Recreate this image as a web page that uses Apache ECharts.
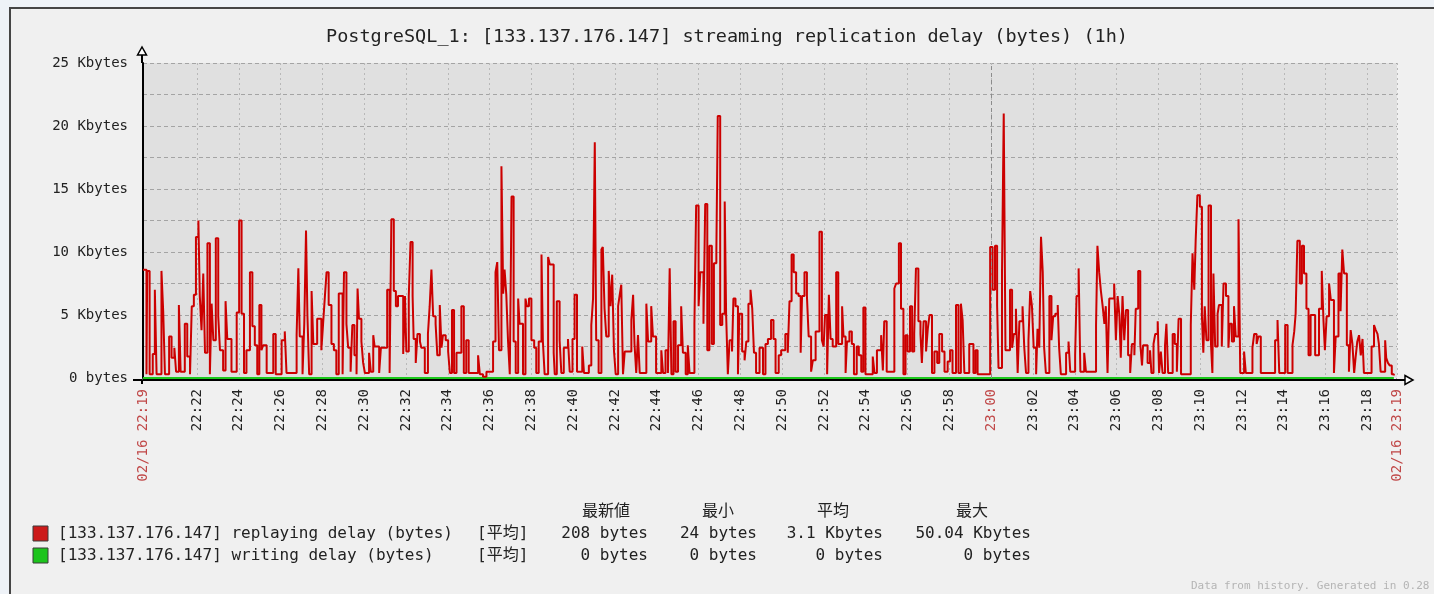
<!DOCTYPE html>
<html>
<head>
<meta charset="utf-8">
<title>PostgreSQL_1 streaming replication delay</title>
<script src="https://cdn.jsdelivr.net/npm/echarts@6/dist/echarts.min.js"></script>
<style>
  html, body { margin: 0; padding: 0; width: 1434px; height: 594px; overflow: hidden; background: #eef2f7; }
  #frame { position: absolute; left: 9px; top: 7px; width: 1440px; height: 600px; border: 2px solid #454545; background: #f0f0f0; }
  #chart { position: absolute; left: 0; top: 0; width: 1434px; height: 594px; }
</style>
</head>
<body>
<div id="frame"></div>
<div id="chart"></div>
<script>
// 時刻は 22:00:00 からの秒数で持つ
const START_SEC = 19 * 60 + 25 // 02/16 22:19:25
const SPAN_SEC = 3600 // 1h
const START_LABEL = '02/16 22:19'
const END_LABEL = '02/16 23:19'

const xTickLabels = [
  '22:22', '22:24', '22:26', '22:28', '22:30', '22:32', '22:34', '22:36', '22:38', '22:40',
  '22:42', '22:44', '22:46', '22:48', '22:50', '22:52', '22:54', '22:56', '22:58', '23:00',
  '23:02', '23:04', '23:06', '23:08', '23:10', '23:12', '23:14', '23:16', '23:18'
]

// replaying delay: 開始からの秒数 / Kbytes
const sampleOffsets = [
  0, 10, 12, 19, 28, 34, 39, 53, 58, 63,
  75, 82, 90, 95, 103, 108, 120, 127, 135, 140,
  146, 152, 159, 163, 168, 173, 178, 185, 192, 197,
  202, 209, 216, 221, 230, 237, 242, 254, 269, 276,
  283, 290, 297, 307, 314, 321, 328, 334, 340, 345,
  355, 374, 381, 398, 407, 412, 441, 446, 450, 458,
  463, 468, 472, 477, 484, 489, 500, 512, 517, 522,
  527, 533, 541, 548, 555, 562,
  573, 577, 584, 589, 596, 601, 607, 613, 616, 620,
  627, 632, 637, 649, 654, 661, 665, 678, 683, 701,
  708, 713, 720, 726, 732, 747, 752, 756, 763, 768,
  774, 777, 783, 788, 795, 799, 809, 818, 823, 828,
  833, 840, 845, 852, 857, 861, 869, 876, 881, 887,
  893, 900, 914, 921, 928, 935, 962, 967, 976, 986,
  1005, 1012, 1017, 1022, 1029, 1034, 1038, 1043, 1048, 1053,
  1058, 1064, 1070, 1077, 1081, 1091, 1098, 1102, 1108, 1115,
  1123, 1129, 1136, 1144, 1148, 1153, 1163, 1168,
  1179, 1182, 1188, 1196, 1201, 1208, 1220, 1225, 1233, 1239,
  1246, 1261, 1266, 1280, 1287, 1292, 1297, 1301, 1308, 1316,
  1320, 1325, 1330, 1337, 1342, 1347, 1352, 1357, 1364, 1368,
  1373, 1378, 1383, 1402, 1407, 1411, 1416, 1421, 1426, 1445,
  1450, 1459, 1464, 1473, 1488, 1493, 1500, 1507, 1512, 1517,
  1523, 1529, 1536, 1545, 1550, 1558, 1564, 1569, 1583, 1588,
  1595, 1600, 1609, 1614, 1620, 1626, 1633, 1639, 1646, 1650,
  1657, 1663, 1670, 1674, 1679, 1684, 1691, 1695, 1701, 1708,
  1712, 1720, 1727, 1732, 1738, 1744, 1749, 1754, 1760,
  1770, 1780, 1787, 1794, 1803, 1810, 1816, 1825, 1832, 1844,
  1851, 1856, 1862, 1868, 1875, 1882, 1888, 1892, 1899, 1906,
  1911, 1918, 1923, 1931, 1942, 1949, 1954, 1958, 1964, 1969,
  1974, 1980, 1990, 1996, 2007, 2011, 2017, 2021, 2028, 2035,
  2041, 2049, 2055, 2062, 2068, 2074, 2095, 2100, 2107, 2119,
  2124, 2128, 2135, 2157, 2162, 2170, 2176, 2183, 2189, 2195,
  2202, 2208, 2214, 2219, 2226, 2232, 2236, 2241, 2248, 2253,
  2258, 2265, 2272, 2280, 2286, 2294, 2301, 2310, 2317, 2324,
  2334, 2341, 2348, 2353, 2358,
  2372, 2384, 2390, 2396, 2432, 2439, 2446, 2452, 2456, 2466,
  2471, 2476, 2489, 2495, 2500, 2506, 2511, 2516, 2525, 2530,
  2535, 2542, 2547, 2552, 2557, 2564, 2568, 2573, 2578, 2583,
  2587, 2592, 2602, 2608, 2613, 2619, 2626, 2630, 2635, 2650,
  2657, 2662, 2676, 2680, 2686, 2691, 2702, 2707, 2736, 2740,
  2745, 2750, 2755, 2760, 2764, 2769, 2774, 2788, 2793, 2798,
  2803, 2807, 2812, 2817, 2822, 2828, 2834, 2839, 2846, 2850,
  2857, 2863, 2868, 2871, 2884, 2891, 2895, 2901, 2906, 2913,
  2917, 2922, 2927, 2934, 2938, 2943, 2956, 2962, 2968, 2973,
  2980, 3008, 3013, 3018, 3022, 3027, 3034, 3040, 3044, 3048,
  3053, 3059, 3066, 3070, 3073, 3078, 3085, 3089, 3097, 3102,
  3109, 3116, 3120, 3126, 3132, 3137, 3145, 3150, 3161, 3166,
  3185, 3190, 3197, 3202, 3209, 3250, 3257, 3262, 3279, 3286,
  3300, 3305, 3309, 3314, 3321, 3327, 3333, 3340, 3346, 3352,
  3365, 3376, 3384, 3389, 3393, 3398, 3405, 3410, 3419, 3424,
  3432, 3438, 3443, 3448, 3456, 3462, 3467, 3472, 3477, 3481,
  3486, 3491, 3496, 3501, 3505, 3527, 3534, 3539, 3544, 3548,
  3553, 3566, 3569, 3574, 3579, 3585, 3591
]
const replayingKB = [
  8.6, 0.3, 8.5, 0.3, 1.9, 7.0, 0.3, 8.5, 5.3, 0.3,
  3.3, 1.6, 2.4, 0.5, 5.8, 0.5, 4.3, 1.7, 0.3, 5.7,
  6.6, 11.2, 12.5, 6.5, 3.8, 8.3, 2.0, 10.7, 0.3, 5.9,
  3.0, 11.1, 4.9, 2.2, 0.6, 6.1, 3.1, 0.5, 5.2, 12.5,
  5.1, 0.4, 2.2, 8.4, 4.1, 2.6, 0.3, 5.8, 2.2, 2.6,
  0.4, 3.5, 0.3, 3.0, 3.7, 0.4, 3.4, 8.7, 3.3, 0.3,
  4.3, 11.7, 5.0, 0.3, 6.9, 2.7, 4.7, 2.2, 4.3, 6.4,
  8.4, 5.8, 2.7, 2.2, 0.3, 6.7,
  0.3, 8.4, 4.3, 2.4, 0.5, 4.2, 1.8, 0.3, 7.1, 4.7,
  2.9, 1.2, 0.4, 2.0, 0.5, 3.4, 2.5, 0.4, 2.4, 7.0,
  0.4, 12.6, 6.9, 5.7, 6.5, 1.9, 6.5, 2.1, 6.5, 10.8,
  6.5, 3.1, 1.2, 3.5, 2.9, 2.4, 0.4, 3.5, 5.7, 8.6,
  4.9, 4.3, 1.8, 5.8, 2.4, 3.4, 3.0, 2.1, 0.4, 5.4,
  0.4, 2.0, 5.7, 0.4, 3.0, 0.4, 1.8, 0.3, 0.1, 0.5,
  2.9, 8.4, 9.2, 2.2, 16.8, 6.7, 8.6, 6.6, 2.9, 0.3,
  14.4, 2.9, 0.4, 6.3, 4.3, 0.3, 6.3, 5.7, 6.3, 3.0,
  2.4, 0.4, 2.9, 9.8, 2.9, 0.3, 9.6, 9.0,
  2.0, 0.3, 6.1, 3.0, 0.4, 2.4, 3.1, 0.5, 3.1, 6.6,
  0.5, 2.5, 0.4, 1.0, 4.2, 6.3, 18.7, 3.0, 0.4, 10.2,
  10.4, 5.5, 3.3, 8.5, 5.7, 8.2, 2.2, 0.3, 5.7, 6.5,
  7.4, 0.3, 2.1, 4.6, 6.6, 2.7, 0.4, 3.4, 0.4, 5.9,
  2.9, 5.7, 3.3, 0.4, 2.2, 0.4, 2.2, 0.4, 8.7, 0.3,
  4.5, 0.5, 2.6, 5.7, 2.0, 0.3, 2.6, 0.4, 4.3, 13.7,
  5.7, 8.4, 4.3, 13.8, 2.2, 10.5, 2.7, 9.1, 10.0, 20.8,
  4.2, 5.1, 14.0, 5.1, 0.3, 3.0, 2.1, 6.3, 5.7, 0.3,
  5.1, 2.1, 1.4, 2.9, 5.9, 7.0, 5.5, 2.0, 0.4,
  2.4, 0.3, 2.7, 3.1, 4.6, 3.1, 0.4, 1.8, 2.2, 3.5,
  2.0, 6.1, 9.8, 8.4, 6.7, 6.5, 2.0, 6.5, 8.4, 6.5,
  3.3, 0.5, 1.4, 3.7, 11.6, 3.0, 2.5, 5.0, 0.3, 6.6,
  3.1, 2.5, 8.4, 2.7, 5.7, 3.3, 0.4, 2.9, 3.7, 2.7,
  0.3, 2.5, 1.8, 0.5, 5.6, 0.3, 1.7, 0.4, 2.2, 3.4,
  0.6, 4.5, 0.5, 7.1, 7.5, 10.7, 5.5, 0.3, 3.4, 2.1,
  5.7, 2.1, 3.5, 8.7, 4.5, 3.5, 1.2, 4.5, 2.1, 3.9,
  5.0, 0.4, 2.1, 1.2, 3.5, 2.1, 0.5, 1.3, 2.2, 0.4,
  5.8, 0.4, 5.9, 4.6, 0.4,
  2.7, 0.4, 2.2, 0.3, 10.4, 7.0, 10.5, 5.8, 0.8, 8.3,
  21.0, 2.2, 7.0, 2.4, 3.5, 5.5, 0.4, 4.5, 5.7, 2.4,
  0.4, 3.0, 6.9, 5.7, 2.4, 0.3, 3.9, 2.4, 11.2, 8.4,
  2.4, 0.4, 6.5, 3.0, 4.9, 5.1, 5.8, 2.4, 0.3, 2.0,
  2.9, 0.5, 1.8, 6.5, 8.7, 0.5, 2.0, 0.5, 4.2, 10.5,
  8.4, 6.9, 5.7, 4.3, 5.7, 0.4, 6.3, 7.5, 3.0, 6.5,
  5.0, 1.6, 6.5, 3.0, 5.4, 1.8, 0.4, 2.7, 1.8, 5.5,
  8.5, 2.7, 1.0, 2.6, 1.2, 2.2, 0.4, 2.7, 3.5, 4.5,
  0.4, 2.1, 0.4, 2.6, 4.3, 0.4, 3.5, 2.7, 0.5, 4.7,
  0.3, 4.2, 9.9, 7.0, 10.9, 14.5, 13.6, 4.9, 2.0, 5.7,
  3.0, 13.7, 2.7, 0.4, 8.3, 2.5, 5.1, 5.8, 2.5, 7.5,
  6.5, 2.4, 4.3, 2.9, 5.7, 3.3, 12.6, 0.4, 2.1, 0.4,
  2.4, 3.5, 2.7, 3.3, 0.4, 3.0, 4.6, 0.4, 4.2, 0.4,
  2.6, 3.7, 5.1, 10.9, 7.5, 10.5, 8.3, 5.5, 1.8, 5.0,
  1.8, 5.5, 8.5, 4.5, 2.2, 4.9, 7.5, 6.2, 0.4, 3.3,
  8.3, 5.3, 10.2, 8.3, 2.6, 0.5, 3.8, 2.7, 0.4, 1.6,
  2.9, 3.4, 1.8, 3.1, 0.4, 2.5, 4.2, 3.8, 3.5, 2.7,
  0.5, 3.0, 1.6, 1.2, 1.0, 0.3, 0.2
]

// writing delay は全区間 0
const writingOffsets = [0, 3591]
const writingKB = [0, 0]

const legendNames = [
  '[133.137.176.147] replaying delay (bytes)',
  '[133.137.176.147] writing delay (bytes)'
]
const statHeaders = ['最新値', '最小', '平均', '最大']
const replayingStats = ['208 bytes', '24 bytes', '3.1 Kbytes', '50.04 Kbytes']
const writingStats = ['0 bytes', '0 bytes', '0 bytes', '0 bytes']

const MONO = '"DejaVu Sans Mono", "Noto Sans CJK JP", monospace'
const RED = '#cc0000'
const GREEN = '#1cc81c'

const toSec = label => {
  const [h, m] = label.split(':').map(Number)
  return (h - 22) * 3600 + m * 60
}
const fmtTime = s => {
  const h = 22 + Math.floor(s / 3600)
  const m = Math.floor((s % 3600) / 60)
  return h + ':' + String(m).padStart(2, '0')
}

const END_SEC = START_SEC + SPAN_SEC
const gridSecs = xTickLabels.map(toSec).concat([END_SEC])
const labelSecs = [START_SEC].concat(xTickLabels.map(toSec), [END_SEC])
const hourSec = toSec('23:00')

const replayData = sampleOffsets.map((t, i) => [START_SEC + t, replayingKB[i]])
const writingData = writingOffsets.map((t, i) => [START_SEC + t, writingKB[i]])

var myChart = echarts.init(document.getElementById('chart'), null, { renderer: 'canvas' })

var option = {
  animation: false,
  title: {
    text: 'PostgreSQL_1: [133.137.176.147] streaming replication delay (bytes) (1h)',
    left: 321,
    top: 23,
    textStyle: { color: '#222', fontSize: 18.5, fontWeight: 'normal', fontFamily: MONO }
  },
  grid: {
    left: 143,
    top: 63,
    right: 37,
    bottom: 216,
    show: true,
    backgroundColor: '#e0e0e0',
    borderWidth: 0
  },
  xAxis: {
    type: 'value',
    min: START_SEC,
    max: END_SEC,
    offset: 2,
    axisLine: { show: true, onZero: false, lineStyle: { color: '#000', width: 2 } },
    axisTick: { show: false, customValues: gridSecs },
    splitLine: {
      show: true,
      lineStyle: { color: '#b8b8b8', type: [2, 3], width: 1 }
    },
    axisLabel: {
      customValues: labelSecs,
      rotate: 90,
      margin: 9,
      fontSize: 14,
      fontFamily: MONO,
      color: function (value) {
        var v = Number(value)
        return (v === START_SEC || v === END_SEC || v === hourSec) ? '#c04848' : '#222'
      },
      formatter: function (value) {
        if (value === START_SEC) return START_LABEL
        if (value === END_SEC) return END_LABEL
        return fmtTime(value)
      }
    }
  },
  yAxis: {
    type: 'value',
    min: 0,
    max: 25,
    interval: 2.5,
    axisLine: { show: true, onZero: false, lineStyle: { color: '#000', width: 2 } },
    axisTick: { show: false },
    splitLine: {
      show: true,
      lineStyle: { color: '#a4a4a4', type: [4, 3], width: 1 }
    },
    axisLabel: {
      margin: 15,
      fontSize: 14,
      fontFamily: MONO,
      color: '#222',
      formatter: function (v) {
        if (v === 0) return '0 bytes'
        return v % 5 === 0 ? v + ' Kbytes' : ''
      }
    }
  },
  series: [
    {
      name: legendNames[1],
      type: 'line',
      data: writingData,
      showSymbol: false,
      z: 1,
      lineStyle: { color: GREEN, width: 2 },
      itemStyle: { color: GREEN },
      markLine: {
        silent: true,
        symbol: ['none', 'none'],
        label: { show: false },
        lineStyle: { color: '#8c8c8c', type: [4, 3], width: 1 },
        data: [{ xAxis: hourSec }]
      }
    },
    {
      name: legendNames[0],
      type: 'line',
      step: 'end',
      data: replayData,
      showSymbol: false,
      z: 2,
      lineStyle: { color: RED, width: 2 },
      itemStyle: { color: RED }
    }
  ]
}
myChart.setOption(option, true)

// 軸の矢印・凡例・統計は座標に合わせて後から描く
var o = myChart.convertToPixel({ gridIndex: 0 }, [START_SEC, 0])
var tr = myChart.convertToPixel({ gridIndex: 0 }, [END_SEC, 25])
var ax = o[0] - 1
var ay = o[1] + 2
var txt = (text, x, y, align, size, fill) => ({
  type: 'text',
  silent: true,
  style: {
    text: text, x: x, y: y,
    align: align, textAlign: align,
    verticalAlign: 'middle', textVerticalAlign: 'middle',
    font: (size || 16) + 'px ' + MONO,
    fill: fill || '#222'
  }
})
var statRight = [648, 757, 883, 1031]
var headCenter = [606, 718, 833, 972]

var graphic = [
  { type: 'line', silent: true, shape: { x1: ax, y1: tr[1], x2: ax, y2: tr[1] - 8 }, style: { stroke: '#000', lineWidth: 2 } },
  { type: 'polygon', silent: true, shape: { points: [[ax - 4.5, tr[1] - 8], [ax, tr[1] - 16], [ax + 4.5, tr[1] - 8]] }, style: { fill: '#fff', stroke: '#000', lineWidth: 1.5 } },
  { type: 'line', silent: true, shape: { x1: ax, y1: ay, x2: ax, y2: ay + 4 }, style: { stroke: '#000', lineWidth: 2 } },
  { type: 'line', silent: true, shape: { x1: ax - 9, y1: ay, x2: ax, y2: ay }, style: { stroke: '#000', lineWidth: 2 } },
  { type: 'line', silent: true, shape: { x1: tr[0], y1: ay, x2: tr[0] + 8, y2: ay }, style: { stroke: '#000', lineWidth: 2 } },
  { type: 'polygon', silent: true, shape: { points: [[tr[0] + 8, ay - 4.5], [tr[0] + 16, ay], [tr[0] + 8, ay + 4.5]] }, style: { fill: '#fff', stroke: '#000', lineWidth: 1.5 } },
  { type: 'rect', silent: true, shape: { x: 33, y: 526, width: 15, height: 15 }, style: { fill: '#cc1a1a', stroke: '#3a3a3a', lineWidth: 1 } },
  { type: 'rect', silent: true, shape: { x: 33, y: 548, width: 15, height: 15 }, style: { fill: '#1cc41c', stroke: '#3a3a3a', lineWidth: 1 } },
  txt(legendNames[0], 58, 534, 'left'),
  txt(legendNames[1], 58, 556, 'left'),
  txt('[平均]', 477, 534, 'left'),
  txt('[平均]', 477, 556, 'left'),
  txt('Data from history. Generated in 0.28 sec', 1191, 586, 'left', 11, '#b4b4b4')
]
statHeaders.forEach((h, i) => graphic.push(txt(h, headCenter[i], 512, 'center')))
replayingStats.forEach((s, i) => graphic.push(txt(s, statRight[i], 534, 'right')))
writingStats.forEach((s, i) => graphic.push(txt(s, statRight[i], 556, 'right')))

myChart.setOption({ graphic: graphic })

window.addEventListener('resize', function () {
  myChart && myChart.resize()
})
</script>
</body>
</html>
